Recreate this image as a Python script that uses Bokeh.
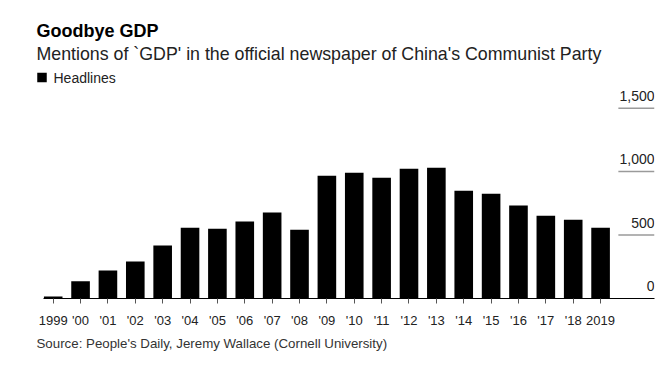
from bokeh.plotting import figure
from bokeh.layouts import column
from bokeh.models import FixedTicker, Range1d
from bokeh.embed import file_html
from bokeh.resources import INLINE
from bokeh.core.properties import value

# ---- data ----
years = list(range(1999, 2020))
headlines = [15, 135, 220, 292, 418, 558, 550, 606, 677, 542, 967,
             990, 951, 1022, 1030, 849, 826, 732, 653, 621, 557]
x_tick_labels = ["1999", "'00", "'01", "'02", "'03", "'04", "'05", "'06", "'07",
                 "'08", "'09", "'10", "'11", "'12", "'13", "'14", "'15", "'16",
                 "'17", "'18", "2019"]
y_ticks = [0, 500, 1000, 1500]
y_tick_labels = ["0", "500", "1,000", "1,500"]

title_text = "Goodbye GDP"
subtitle_text = "Mentions of `GDP' in the official newspaper of China's Communist Party"
source_text = "Source: People's Daily, Jeremy Wallace (Cornell University)"
series_name = "Headlines"

FONT = "Liberation Sans"
W = 672


def blank(h):
    f = figure(width=W, height=h, output_backend="svg", toolbar_location=None,
               x_range=Range1d(0, W), y_range=Range1d(h, 0),
               x_axis_location=None, y_axis_location=None, frame_align=False,
               min_border_left=0, min_border_right=0, min_border_top=0, min_border_bottom=0)
    f.outline_line_color = None
    f.xgrid.visible = False
    f.ygrid.visible = False
    return f


# ---- header ----
HEAD_H = 88
head = blank(HEAD_H)
head.text(x=[36], y=[30], text=[title_text], text_font=value(FONT), text_font_size="18px",
          text_font_style="bold", text_color="black", text_baseline="middle")
head.text(x=[36], y=[53], text=[subtitle_text], text_font=value(FONT), text_font_size="17.8px",
          text_color="#222222", text_baseline="middle")
head.rect(x=[41.5], y=[77], width=9.5, height=9.5, fill_color="black", line_color=None)
head.text(x=[53], y=[77], text=[series_name], text_font=value(FONT), text_font_size="14px",
          text_color="#222222", text_baseline="middle")

# ---- main chart ----
x_start, x_end = 1998.646, 2020.97
p = figure(width=W, height=242, output_backend="svg", toolbar_location=None,
           x_range=Range1d(x_start, x_end), y_range=Range1d(0, 1639),
           y_axis_location=None, frame_align=False,
           min_border_left=43, min_border_right=18, min_border_top=2, min_border_bottom=31)
p.outline_line_color = None
p.xgrid.visible = False
p.ygrid.visible = False

p.vbar(x=years, top=headlines, width=0.68, fill_color="black", line_color=None)

grid_vals = [v for v in y_ticks if v > 0]
p.segment(x0=[x_end - 1.32] * len(grid_vals), x1=[x_end] * len(grid_vals),
          y0=grid_vals, y1=grid_vals, line_color="#9a9a9a", line_width=1.5)
p.text(x=[x_end] * len(y_ticks), y=y_ticks, text=y_tick_labels,
       text_align="right", text_baseline="middle", y_offset=-12.5,
       text_font=value(FONT), text_font_size="14px", text_color="#222222")

ax = p.xaxis[0]
ax.ticker = FixedTicker(ticks=years)
ax.major_label_overrides = {y: l for y, l in zip(years, x_tick_labels)}
ax.major_tick_out = 5
ax.major_tick_in = 0
ax.minor_tick_line_color = None
ax.major_tick_line_color = "#555555"
ax.axis_line_color = "black"
ax.axis_line_width = 1
ax.major_label_standoff = 9
ax.major_label_text_font = FONT
ax.major_label_text_font_size = "13px"
ax.major_label_text_color = "#222222"

# ---- footer ----
FOOT_H = 42
foot = blank(FOOT_H)
foot.text(x=[36], y=[13], text=[source_text], text_font=value(FONT), text_font_size="13.3px",
          text_color="#333333", text_baseline="middle")

layout = column(head, p, foot, spacing=0)
open("out.html", "w").write(file_html(layout, INLINE))
